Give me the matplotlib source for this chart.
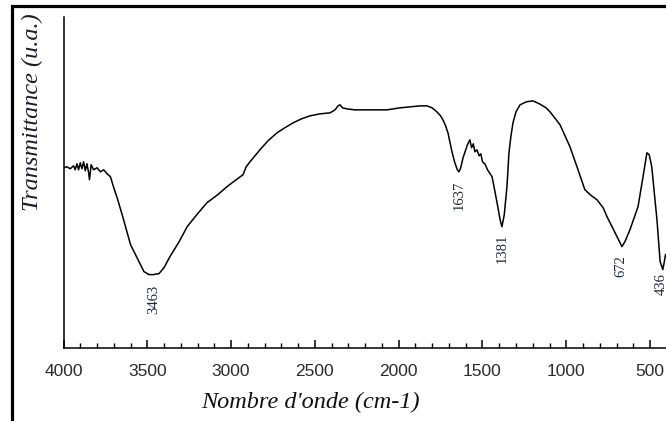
import numpy as np
import matplotlib.pyplot as plt
from matplotlib.patches import Rectangle

# ── Data (wavenumber cm-1, transmittance a.u.) ──
wavenumber = [
    4000, 3980, 3960, 3940, 3930, 3920, 3910, 3900, 3890, 3880, 3870, 3860,
    3850, 3845, 3835, 3820, 3800, 3780, 3760, 3740, 3720, 3700, 3680, 3650,
    3600, 3550, 3520, 3490, 3463, 3430, 3400, 3365, 3310, 3262, 3200, 3144,
    3080, 3025, 2970, 2929, 2910, 2887, 2828, 2780, 2726, 2680, 2630, 2580,
    2530, 2470, 2410, 2380, 2362, 2350, 2335, 2309, 2261, 2200, 2130, 2070,
    2030, 1992, 1930, 1873, 1831, 1800, 1772, 1750, 1736, 1720, 1706, 1682,
    1665, 1650, 1640, 1630, 1616, 1600, 1590, 1575, 1565, 1555, 1545, 1533,
    1520, 1510, 1500, 1486, 1470, 1443, 1430, 1413, 1395, 1384, 1370, 1354,
    1342, 1330, 1318, 1300, 1276, 1240, 1199, 1160, 1120, 1097, 1037, 978,
    930, 889, 850, 817, 780, 757, 709, 680, 668, 650, 620, 572,
    542, 519, 505, 490, 459, 440, 430, 424, 415, 408,
]
transmittance = [
    180, 181, 179, 182, 178, 184, 178, 185, 179, 186, 177, 184,
    175, 168, 183, 178, 180, 176, 178, 174, 171, 160, 150, 133,
    103, 86, 76, 73, 73, 74, 80, 91, 106, 121, 134, 145,
    153, 161, 168, 173, 181, 186, 198, 207, 215, 220, 225, 229,
    232, 234, 235, 238, 242, 243, 240, 239, 238, 238, 238, 238,
    239, 240, 241, 242, 242, 240, 236, 232, 228, 222, 215, 196,
    185, 178, 176, 180, 190, 198, 203, 208, 200, 204, 196, 198,
    192, 194, 186, 184, 178, 171, 160, 145, 128, 121, 133, 161,
    195, 212, 225, 236, 243, 246, 247, 244, 240, 236, 223, 201,
    178, 158, 152, 148, 140, 131, 115, 105, 101, 106, 118, 141,
    171, 195, 193, 181, 128, 86, 81, 78, 86, 93,
]

# absorption bands that get a label
peaks = [3463, 1637, 1381, 672, 436]
peak_labels = ["3463", "1637", "1381", "672", "436"]

x_ticks = [4000, 3500, 3000, 2500, 2000, 1500, 1000, 500]

# ── Figure ──────────────────────────────────────────────────────────
W, H = 666, 421
fig = plt.figure(figsize=(W / 100, H / 100), dpi=100)
ax = fig.add_axes([63.5 / W, 1 - 347.5 / H, 1 - 63.5 / W, (347.5 - 17) / H])

ax.plot(wavenumber, transmittance, color="black", lw=1.1)

ax.set_xlim(4000, 405)
ax.set_ylim(0, 331)

ax.spines["top"].set_visible(False)
ax.spines["right"].set_visible(False)
ax.spines["left"].set_linewidth(1.1)
ax.spines["bottom"].set_linewidth(1.1)

ax.set_yticks([])
ax.set_xticks(x_ticks)
ax.set_xticks(np.arange(500, 4000, 100), minor=True)
ax.tick_params(axis="x", which="major", direction="in", length=6, width=1.1,
               pad=12, labelsize=12.5)
ax.tick_params(axis="x", which="minor", direction="in", length=3.5, width=1.0)
for lab in ax.get_xticklabels():
    lab.set_family("Liberation Sans")
    lab.set_color("#2a2a2a")

# peak labels, rotated, just under each band minimum
wn_sorted = wavenumber[::-1]
tr_sorted = transmittance[::-1]
for p, txt in zip(peaks, peak_labels):
    ymin = np.interp(p, wn_sorted, tr_sorted)
    ax.annotate(txt, xy=(p, ymin), xytext=(0, -7), textcoords="offset points",
                rotation=90, ha="center", va="top", fontsize=10.5,
                family="Liberation Serif", color="#1e2740")

ax.set_xlabel("Nombre d'onde (cm-1)", family="Liberation Serif",
              style="italic", fontsize=17.5, labelpad=9, color="#111111")
ax.xaxis.set_label_coords((310 - 63.5) / (W - 63.5), -0.135)

fig.text(32 / W, 1 - 13 / H, "Transmittance (u.a.)", rotation=90,
         ha="center", va="top", family="Liberation Serif", style="italic",
         fontsize=17.5, color="#1a1a2a")

# thick black frame around the picture (right/bottom cut off)
fig.patches.append(Rectangle((12 / W, -0.1), 1.2, 1.1 - 6 / H,
                             transform=fig.transFigure, fill=False,
                             edgecolor="black", lw=2.3, clip_on=False))

fig.savefig("out.png", dpi=100)
